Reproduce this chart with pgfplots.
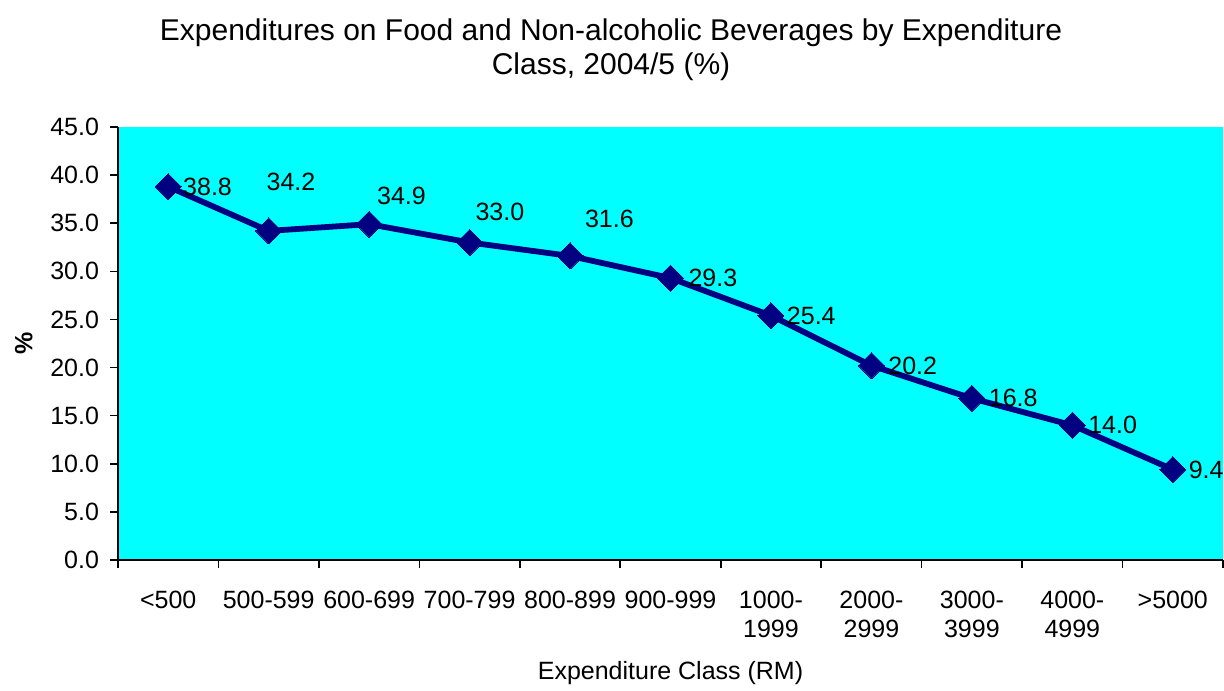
\documentclass[border=0pt]{standalone}
\usepackage{fontspec}
\setmainfont{Liberation Sans}
\usepackage{pgfplots}
\pgfplotsset{compat=1.18}
\definecolor{bgcyan}{HTML}{00FFFF}
\definecolor{navyline}{HTML}{000080}

\pgfplotstableread{
x y dx dy
0 38.8 7.5 0
1 34.2 -1 24.5
2 34.9 4 14
3 33.0 3 15.5
4 31.6 7.5 18.5
5 29.3 9 0
6 25.4 8 0
7 20.2 8.5 0
8 16.8 8.5 0
9 14.0 8 0
10 9.4 8 0
}\foodshare

\begin{document}
\begin{tikzpicture}
\begin{axis}[
    name=ax,
    scale only axis,
    width=552.5pt, height=216.5pt,
    xmin=-0.5, xmax=10.5,
    ymin=0, ymax=45,
    axis lines*=left,
    axis line style={line width=1.1pt},
    axis background/.style={fill=bgcyan},
    font=\fontsize{12.5}{14.5}\selectfont,
    xtick={0,...,10},
    xticklabels={{<500},{500-599},{600-699},{700-799},{800-899},{900-999},
        {1000-\\1999},{2000-\\2999},{3000-\\3999},{4000-\\4999},{>5000}},
    major x tick style={draw=none},
    minor xtick={-0.5,0.5,...,10.5},
    minor tick length=4pt,
    minor x tick style={line width=0.8pt, black},
    xticklabel style={align=center, anchor=north, yshift=-8pt},
    ytick={0,5,...,45},
    major tick length=4pt,
    tick align=outside,
    y tick style={line width=0.8pt, black},
    yticklabel style={xshift=-2pt, /pgf/number format/.cd, fixed, fixed zerofill, precision=1},
    /pgf/number format/assume math mode=true,
    xlabel={Expenditure Class (RM)},
    xlabel style={yshift=-5pt},
    ylabel={\textbf{\%}},
    ylabel style={yshift=2pt},
    clip=false,
]
\addplot[navyline, line width=2.9pt, mark=square*,
    mark options={rotate=45, fill=navyline, draw=navyline, line width=0pt},
    mark size=4.6pt,
    visualization depends on={\thisrow{dx} \as \dx},
    visualization depends on={\thisrow{dy} \as \dy},
    nodes near coords={\pgfmathprintnumber[fixed,fixed zerofill,precision=1,assume math mode=true]{\pgfplotspointmeta}},
    nodes near coords style={black, anchor=west, inner sep=0pt, xshift=\dx pt, yshift=\dy pt, font=\fontsize{12.5}{14.5}\selectfont},
    ] table[x=x, y=y] {\foodshare};
\end{axis}
\node[anchor=north, align=center, font=\fontsize{15}{17}\selectfont]
    at ([xshift=246.5pt, yshift=57.5pt]ax.north west)
    {Expenditures on Food and Non-alcoholic Beverages by Expenditure\\Class, 2004/5 (\%)};
\pgfresetboundingbox
\path[use as bounding box] ([xshift=-59pt, yshift=-65pt]ax.south west) rectangle ([xshift=0.5pt, yshift=63.5pt]ax.north east);
\end{tikzpicture}
\end{document}
